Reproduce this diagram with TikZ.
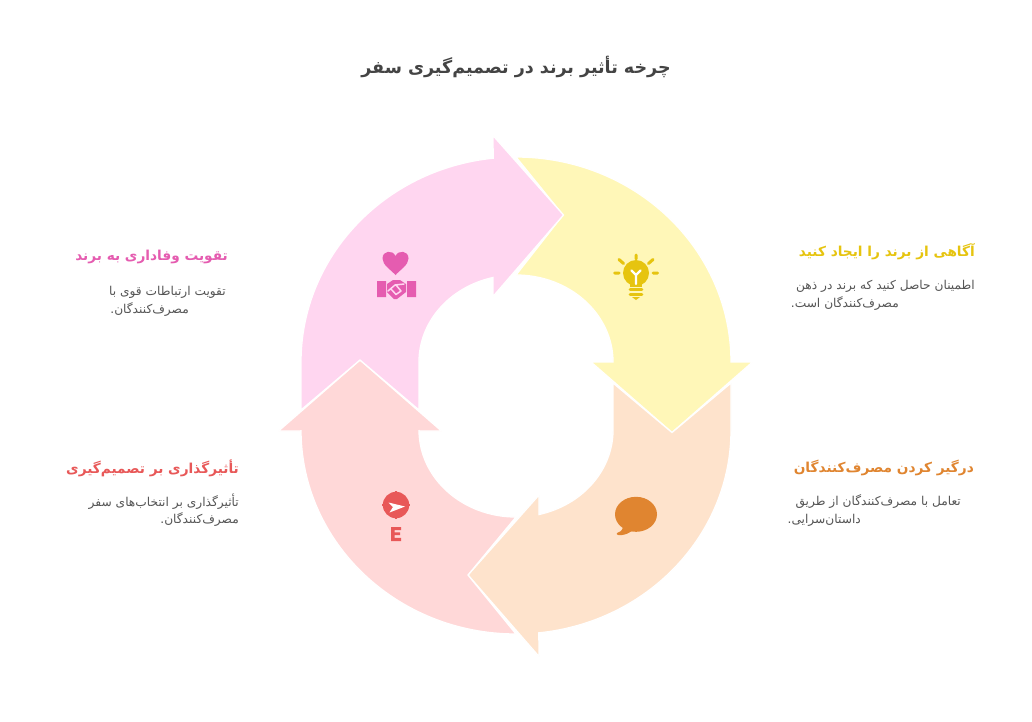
\documentclass[tikz,border=0pt]{standalone}
\usepackage{fontspec}
\TeXXeTstate=1
\newfontfamily\arabicfont[Script=Arabic]{DejaVu Sans}
\newcommand{\fa}[1]{{\arabicfont\beginR #1\endR}}
\definecolor{yfill}{HTML}{FFF7B8}\definecolor{yicon}{HTML}{E6C40F}
\definecolor{ofill}{HTML}{FEE3CC}\definecolor{oicon}{HTML}{E08530}
\definecolor{rfill}{HTML}{FFD8D8}\definecolor{ricon}{HTML}{E85858}
\definecolor{pfill}{HTML}{FFD6F0}\definecolor{picon}{HTML}{E55CB0}
\definecolor{bodygray}{HTML}{555555}\definecolor{titlegray}{HTML}{444444}
\tikzset{
  band/.style={draw=white,line width=1.3pt,line join=miter},
  heading/.style={anchor=east,inner sep=0pt,font=\fontsize{13.7}{14}\selectfont\bfseries},
  bodytext/.style={anchor=east,inner sep=0pt,text=bodygray,font=\fontsize{12.2}{13}\selectfont},
  ray/.style={line width=3pt,line cap=round},
}
\begin{document}
\begin{tikzpicture}[x=1pt,y=-1pt]
\useasboundingbox (0,0) rectangle (1032,721);
\fill[white] (0,0) rectangle (1032,721);
% bands
\path[band,fill=yfill] (516,157) arc[start angle=90,end angle=0,x radius=215pt,y radius=205pt]
  -- (752.5,362) -- (672,432.5) -- (591,362) -- (613,362)
  arc[start angle=0,end angle=90,x radius=97pt,y radius=87pt] -- (563,215) -- cycle;
\path[band,fill=ofill] (731,383) -- (731,430)
  arc[start angle=0,end angle=-83.9,x radius=215pt,y radius=204pt]
  -- (539,656.5) -- (468,575) -- (539,495) -- (539,514.5)
  arc[start angle=-76.3,end angle=0,x radius=97pt,y radius=87pt]
  -- (613,383) -- (672,432.5) -- cycle;
\path[band,fill=rfill] (360,360) -- (441.5,431) -- (419,431) -- (419,430)
  arc[start angle=180,end angle=270,x radius=97pt,y radius=87pt]
  -- (468,575) -- (516,634)
  arc[start angle=270,end angle=180,x radius=215pt,y radius=204pt]
  -- (301,431) -- (278.5,431) -- cycle;
\path[band,fill=pfill] (301,410) -- (301,362)
  arc[start angle=180,end angle=96.1,x radius=215pt,y radius=205pt]
  -- (493,135.5) -- (563.5,215) -- (493,296.5) -- (493,277.5)
  arc[start angle=103.7,end angle=180,x radius=97pt,y radius=87pt]
  -- (419,410) -- (360,360) -- cycle;
% yellow icon: bulb
\draw[ray,yicon] (636,255) -- (636,259) (619,259.5) -- (623.5,263.5) (653,259.5) -- (648.5,263.5)
  (614.5,273) -- (619,273) (657.5,273) -- (653,273);
\fill[yicon] (636,273) circle[radius=13pt];
\fill[yicon] (630,282) rectangle (642,287);
\draw[ray,yicon,line width=2.6pt] (630,289.5) -- (642,289.5) (630,294.5) -- (642,294.5);
\fill[yicon] (632,297) -- (640,297) -- (636,300) -- cycle;
\draw[white,line width=2.2pt,line cap=round,line join=round] (636,284) -- (636,275) (631.5,270.5) -- (636,275) -- (640.5,270.5);
% orange icon: speech bubble
\fill[oicon] (636,514.3) ellipse[x radius=21pt,y radius=17.5pt];
\fill[oicon] (623,527) .. controls (622,531) and (620,532) .. (617,533) .. controls (616,535) and (619,535.5) .. (622,535) .. controls (626,534.5) and (629,533) .. (632,531) -- cycle;
% red icon: compass and letter shape
\fill[ricon] (396,505) circle[radius=13.2pt];
\draw[ricon,line width=2pt] (396,491) -- (396,494) (396,516) -- (396,519) (382,505) -- (385,505) (407,505) -- (410,505);
\fill[white] (388.5,502.5) -- (405,506.5) -- (389.5,512.5) -- (393,507) -- cycle;
\fill[ricon] (391,527) -- (401,527) -- (401,530) -- (394.5,530) -- (394.5,532.3) -- (400,532.3) -- (400,535.2) -- (394.5,535.2) -- (394.5,537.8) -- (401,537.8) -- (401,541) -- (391,541) -- cycle;
% pink icon: heart and handshake
\fill[picon] (395.5,275) .. controls (391,270) and (382.5,265) .. (382.5,258.5)
  .. controls (382.5,250.5) and (392.5,249.5) .. (395.5,256)
  .. controls (398.5,249.5) and (408.5,250.5) .. (408.5,258.5)
  .. controls (408.5,265) and (400,270) .. (395.5,275) -- cycle;
\fill[picon] (377,281) rectangle (386,297) (407,281) rectangle (416,297);
\fill[picon] (387,284) -- (393,280) -- (400,280) -- (406,284) -- (406,292) -- (397,299) -- (394,299) -- (387,292) -- cycle;
\draw[pfill,line width=1.5pt,line join=round,line cap=round] (388,291) -- (395,285) -- (404,284) (391,289) -- (396,294.5) -- (401,291) (396,285) -- (401,291);
% texts
\node[anchor=center,inner sep=0pt,text=titlegray,font=\fontsize{17.5}{18}\selectfont\bfseries] (title) at (516,67) {\fa{چرخه تأثیر برند در تصمیم^^^^200cگیری سفر}};

\node[heading,text=yicon] (h1) at (975,252) {\fa{آگاهی از برند را ایجاد کنید}};
\node[bodytext] (b1a) at (975,286) {\fa{اطمینان حاصل کنید که برند در ذهن}};
\node[bodytext] (b1b) at (899,304) {\fa{مصرف^^^^200cکنندگان است.}};

\node[heading,text=oicon] (h2) at (974,468) {\fa{درگیر کردن مصرف^^^^200cکنندگان}};
\node[bodytext] (b2a) at (961,502) {\fa{تعامل با مصرف^^^^200cکنندگان از طریق}};
\node[bodytext] (b2b) at (861,520) {\fa{داستان^^^^200cسرایی.}};

\node[heading,text=ricon] (h3) at (239,468) {\fa{تأثیرگذاری بر تصمیم^^^^200cگیری}};
\node[bodytext] (b3a) at (239,502) {\fa{تأثیرگذاری بر انتخاب^^^^200cهای سفر}};
\node[bodytext] (b3b) at (239,520) {\fa{مصرف^^^^200cکنندگان.}};

\node[heading,text=picon] (h4) at (228,257) {\fa{تقویت وفاداری به برند}};
\node[bodytext] (b4a) at (226,292) {\fa{تقویت ارتباطات قوی با}};
\node[bodytext] (b4b) at (189,310) {\fa{مصرف^^^^200cکنندگان.}};
\end{tikzpicture}
\end{document}
